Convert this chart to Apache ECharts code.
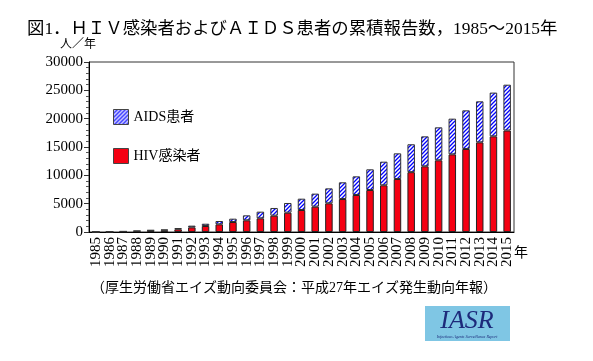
<!DOCTYPE html>
<html><head><meta charset="utf-8">
<script src="https://cdn.jsdelivr.net/npm/echarts@6/dist/echarts.min.js"></script>
<style>html,body{margin:0;padding:0;background:#fff}#c{width:593px;height:361px}</style>
</head><body><div id="c"></div>
<script>
const years = ['1985','1986','1987','1988','1989','1990','1991','1992','1993','1994','1995','1996','1997','1998','1999','2000','2001','2002','2003','2004','2005','2006','2007','2008','2009','2010','2011','2012','2013','2014','2015'];
const hivValues = [0,30,80,150,250,300,480,820,1060,1350,1760,2060,2410,2880,3410,3880,4470,5060,5820,6530,7410,8240,9350,10560,11590,12650,13700,14650,15820,16880,17909];
const aidsValues = [6,20,40,60,80,120,220,300,400,590,590,880,1180,1360,1710,2000,2300,2640,2950,3290,3650,4170,4530,4920,5290,5820,6300,6820,7240,7720,8086];
const yTicks = [0,5000,10000,15000,20000,25000,30000];

const serif = '"Liberation Serif","Noto Sans CJK JP",serif';

// hatch pattern
const pc = document.createElement('canvas');
pc.width = 4; pc.height = 4;
const g = pc.getContext('2d');
g.fillStyle = '#fff'; g.fillRect(0,0,4,4);
g.strokeStyle = '#0000ff'; g.lineWidth = 1.3;
g.beginPath();
g.moveTo(0,4); g.lineTo(4,0);
g.moveTo(-1,1); g.lineTo(1,-1);
g.moveTo(3,5); g.lineTo(5,3);
g.stroke();
const hatch = {image: pc, repeat: 'repeat'};

const chart = echarts.init(document.getElementById('c'), null, {renderer:'canvas'});
chart.setOption({
  animation: false,
  backgroundColor: '#fff',
  grid: {left: 89, top: 62, right: 79, bottom: 129, show: true, borderColor: '#333', borderWidth: 1, backgroundColor: 'transparent'},
  legend: {
    orient: 'vertical', left: 108, top: 104, itemWidth: 15, itemHeight: 15, itemGap: 23,
    icon: 'rect',
    data: ['AIDS患者','HIV感染者'],
    textStyle: {fontFamily: serif, fontSize: 14, color: '#000'},
    itemStyle: {borderColor: '#444', borderWidth: 1}
  },
  xAxis: {
    type: 'category', data: years,
    axisLine: {lineStyle: {color: '#000', width: 1}},
    axisTick: {alignWithLabel: true, length: 3, lineStyle: {color: '#333'}},
    axisLabel: {rotate: 90, fontFamily: serif, fontSize: 15, color: '#000', margin: 5, interval: 0}
  },
  yAxis: {
    type: 'value', min: yTicks[0], max: yTicks[yTicks.length-1], interval: 5000,
    axisLine: {show: true, lineStyle: {color: '#000', width: 1}},
    axisTick: {show: true, length: 5, lineStyle: {color: '#333'}},
    minorTick: {show: true, splitNumber: 5, length: 3, lineStyle: {color: '#555'}},
    splitLine: {show: false},
    axisLabel: {fontFamily: serif, fontSize: 15, color: '#000', margin: 6, formatter: v => String(v)}
  },
  series: [
    {name: 'HIV感染者', type: 'bar', stack: 't', data: hivValues, barWidth: 7.5,
     itemStyle: {color: '#f50012', borderColor: '#222', borderWidth: 1}},
    {name: 'AIDS患者', type: 'bar', stack: 't', data: aidsValues, barWidth: 7.5,
     itemStyle: {color: hatch, borderColor: '#333', borderWidth: 1}}
  ],
  graphic: [
    {type: 'text', left: 27, top: 21, style: {text: '図1．ＨＩＶ感染者およびＡＩＤＳ患者の累積報告数，1985～2015年', font: '17.4px ' + serif, fill: '#000'}},
    {type: 'text', left: 60, top: 39, style: {text: '人／年', font: '12px ' + serif, fill: '#000'}},
    {type: 'text', left: 514, top: 246, style: {text: '年', font: '14px ' + serif, fill: '#000'}},
    {type: 'text', left: 91, top: 281, style: {text: '（厚生労働省エイズ動向委員会：平成27年エイズ発生動向年報）', font: '14px ' + serif, fill: '#000'}},
    {type: 'rect', shape: {x: 425, y: 306, width: 85, height: 35}, style: {fill: '#7fc6e4'}},
    {type: 'text', x: 467, y: 321, style: {text: 'IASR', font: 'italic 26px "Liberation Serif",serif', fill: '#1d2a7a', align: 'center', verticalAlign: 'middle'}},
    {type: 'text', x: 467, y: 337, style: {text: 'Infectious Agents Surveillance Report', font: 'italic 4px "Liberation Serif",serif', fill: '#1d2a7a', align: 'center', verticalAlign: 'middle'}}
  ]
});
</script></body></html>
